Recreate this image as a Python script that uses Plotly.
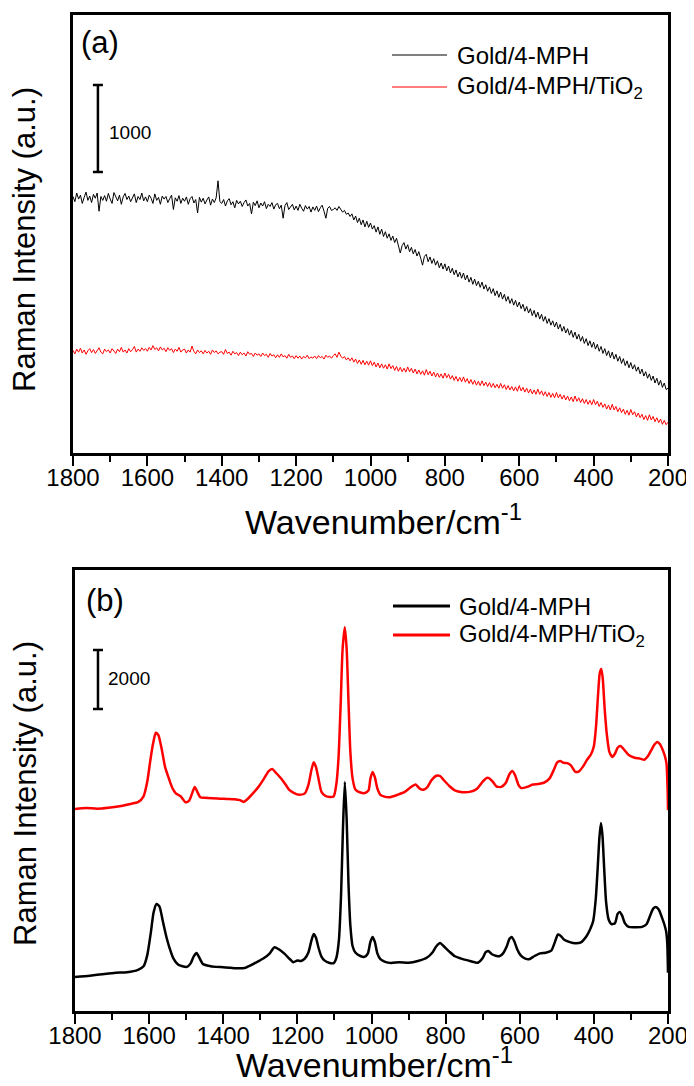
import plotly.graph_objects as go

# ---------------- data ----------------
# panel (a): raw spectra, read every 5 cm-1 from 1800 down to 200
wavenumber_a = list(range(1800, 199, -5))

gold_mph_a = [
    2950, 2890, 2990, 2920, 2965, 2870, 2940, 3000, 2905, 2955,
    2880, 2975, 2930, 2990, 2780, 2950, 2905, 2960, 2895, 2985,
    2920, 2870, 2995, 2940, 2900, 2965, 2860, 2945, 2985, 2915,
    2955, 2890, 2930, 2980, 2880, 2950, 2915, 2990, 2900, 2945,
    2890, 2965, 2930, 2870, 2980, 2905, 2940, 2860, 2955, 2920,
    2950, 2880, 2925, 2965, 2800, 2935, 2895, 2960, 2870, 2930,
    2895, 2945, 2860, 2925, 2950, 2875, 2915, 2760, 2940, 2885,
    2930, 2865, 2910, 2945, 2850, 2920, 2880, 2935, 3130, 2890,
    2870, 2915, 2840, 2900, 2925, 2855, 2890, 2820, 2905, 2865,
    2895, 2835, 2880, 2910, 2840, 2870, 2750, 2885, 2845, 2900,
    2820, 2875, 2840, 2890, 2810, 2860, 2835, 2880, 2805, 2855,
    2870, 2810, 2850, 2700, 2845, 2880, 2800, 2835, 2860, 2795,
    2840, 2790, 2860, 2815, 2780, 2845, 2805, 2835, 2770, 2830,
    2790, 2840, 2775, 2820, 2850, 2780, 2700, 2815, 2835, 2790,
    2800, 2820, 2790, 2835, 2805, 2770, 2790, 2745, 2760, 2720,
    2750, 2680, 2725, 2650, 2700, 2625, 2680, 2600, 2665, 2595,
    2645, 2575, 2615, 2540, 2600, 2515, 2575, 2490, 2545, 2470,
    2520, 2445, 2495, 2420, 2470, 2390, 2300, 2385, 2420, 2345,
    2395, 2315, 2365, 2290, 2340, 2265, 2315, 2240, 2160, 2260,
    2285, 2200, 2255, 2180, 2235, 2160, 2210, 2130, 2185, 2115,
    2175, 2095, 2150, 2070, 2125, 2050, 2105, 2025, 2080, 2010,
    2070, 1990, 2045, 1965, 2020, 1940, 2000, 1925, 1975, 1905,
    1965, 1885, 1935, 1860, 1910, 1835, 1890, 1810, 1865, 1790,
    1850, 1770, 1825, 1745, 1800, 1720, 1775, 1700, 1755, 1680,
    1735, 1660, 1710, 1630, 1685, 1610, 1660, 1580, 1640, 1560,
    1620, 1540, 1595, 1515, 1570, 1490, 1545, 1470, 1520, 1450,
    1505, 1425, 1480, 1400, 1455, 1380, 1430, 1355, 1410, 1330,
    1390, 1310, 1365, 1285, 1340, 1260, 1315, 1235, 1290, 1215,
    1275, 1195, 1250, 1170, 1225, 1145, 1200, 1120, 1175, 1095,
    1160, 1080, 1135, 1055, 1110, 1030, 1085, 1005, 1060, 980,
    1040, 965, 1015, 940, 990, 910, 965, 885, 935, 860,
    910, 835, 885, 805, 860, 780, 835, 755, 805, 730,
    745,
]

gold_mph_tio2_a = [
    1180, 1140, 1195, 1160, 1205, 1150, 1185, 1135, 1175, 1200,
    1155, 1190, 1145, 1180, 1210, 1160, 1140, 1195, 1165, 1185,
    1150, 1200, 1170, 1145, 1195, 1165, 1215, 1160, 1185, 1150,
    1200, 1165, 1190, 1225, 1160, 1195, 1170, 1210, 1180, 1200,
    1170, 1215, 1185, 1235, 1190, 1210, 1175, 1220, 1185, 1205,
    1165, 1210, 1180, 1200, 1155, 1195, 1170, 1215, 1160, 1185,
    1195, 1150, 1185, 1160, 1230, 1170, 1140, 1185, 1155, 1175,
    1140, 1180, 1150, 1170, 1135, 1185, 1155, 1175, 1140, 1160,
    1165, 1135, 1190, 1145, 1160, 1125, 1170, 1140, 1155, 1120,
    1160, 1130, 1150, 1115, 1165, 1135, 1145, 1110, 1150, 1125,
    1140, 1110, 1150, 1120, 1135, 1100, 1145, 1115, 1130, 1095,
    1130, 1100, 1140, 1105, 1120, 1090, 1135, 1100, 1115, 1085,
    1120, 1090, 1115, 1080, 1110, 1095, 1125, 1085, 1105, 1090,
    1115, 1085, 1120, 1095, 1110, 1080, 1125, 1100, 1115, 1090,
    1120, 1140, 1100, 1160, 1115, 1090, 1110, 1070, 1095, 1060,
    1095, 1045, 1080, 1030, 1070, 1020, 1065, 1015, 1055, 1010,
    1060, 1005, 1045, 990, 1035, 980, 1025, 975, 1015, 965,
    1025, 970, 1005, 950, 995, 940, 985, 935, 975, 930,
    990, 935, 975, 920, 965, 910, 955, 905, 945, 895,
    960, 900, 940, 885, 930, 875, 920, 870, 910, 860,
    920, 865, 905, 850, 890, 835, 880, 825, 870, 820,
    875, 815, 855, 800, 845, 790, 835, 780, 825, 775,
    830, 775, 815, 765, 810, 755, 800, 750, 790, 745,
    800, 745, 785, 730, 775, 725, 765, 715, 760, 710,
    775, 715, 755, 700, 745, 690, 735, 680, 725, 675,
    735, 675, 715, 660, 705, 650, 695, 640, 685, 635,
    695, 635, 675, 620, 665, 610, 655, 600, 645, 590,
    655, 595, 635, 580, 625, 570, 615, 560, 605, 555,
    615, 555, 595, 535, 580, 525, 565, 505, 550, 495,
    560, 495, 535, 475, 520, 465, 505, 445, 490, 435,
    500, 440, 475, 415, 460, 405, 445, 385, 430, 375,
    440, 380, 420, 360, 405, 350, 390, 330, 375, 325,
    355,
]

# panel (b): processed spectra
wavenumber_b_black = [
    1800, 1760, 1720, 1690, 1660, 1630, 1615, 1605, 1595, 1588,
    1580, 1572, 1563, 1553, 1545, 1535, 1522, 1510, 1498, 1488,
    1480, 1472, 1464, 1455, 1440, 1420, 1400, 1380, 1360, 1343,
    1325, 1307, 1290, 1275, 1262, 1250, 1235, 1220, 1211, 1200,
    1190, 1180, 1170, 1162, 1156, 1150, 1143, 1135, 1127, 1115,
    1102, 1095, 1088, 1082, 1077, 1072, 1067, 1062, 1057, 1051,
    1043, 1030, 1019, 1010, 1003, 997, 991, 984, 976, 965,
    947, 925, 900, 875, 850, 835, 825, 815, 805, 790,
    775, 760, 740, 713, 700, 692, 685, 675, 665, 655,
    645, 635, 628, 622, 615, 607, 598, 585, 575, 560,
    545, 530, 515, 505, 497, 490, 480, 465, 450, 435,
    420, 410, 402, 395, 390, 385, 381, 377, 372, 367,
    360, 352, 343, 336, 330, 324, 316, 306, 290, 270,
    258, 248, 240, 233, 225, 217, 210, 205, 202, 200,
]
gold_mph_b = [
    1156, 1200, 1260, 1300, 1320, 1400, 1520, 1900, 2700, 3350,
    3640, 3550, 3050, 2500, 2150, 1800, 1580, 1520, 1500, 1620,
    1850, 1970, 1800, 1600, 1540, 1500, 1490, 1470, 1450, 1460,
    1560, 1680, 1800, 1950, 2170, 2100, 1950, 1760, 1660, 1720,
    1700, 1780, 2000, 2400, 2620, 2500, 2150, 1850, 1720, 1640,
    1630, 1800, 2400, 4000, 6200, 7790, 6500, 4300, 2900, 2200,
    1980, 1870, 1840, 1950, 2350, 2520, 2350, 1950, 1760, 1680,
    1630, 1660, 1640, 1700, 1820, 2000, 2200, 2310, 2200, 2020,
    1860, 1790, 1720, 1640, 1800, 2000, 2040, 1930, 1880, 1860,
    1960, 2200, 2450, 2520, 2380, 2100, 1900, 1780, 1760, 1870,
    1960, 1980, 2050, 2350, 2600, 2560, 2420, 2340, 2300, 2330,
    2540, 2780, 3050, 3800, 4800, 5900, 6390, 6000, 4800, 3700,
    3100, 2950, 2990, 3300, 3370, 3250, 2980, 2860, 2850, 2860,
    2950, 3250, 3480, 3540, 3450, 3200, 2950, 2700, 2300, 1300,
]

wavenumber_b_red = [
    1800, 1770, 1740, 1710, 1680, 1650, 1630, 1615, 1605, 1597,
    1590, 1582, 1575, 1566, 1557, 1548, 1538, 1528, 1515, 1502,
    1492, 1484, 1477, 1470, 1462, 1450, 1430, 1410, 1390, 1370,
    1355, 1345, 1335, 1320, 1305, 1290, 1278, 1268, 1258, 1245,
    1232, 1222, 1210, 1195, 1180, 1170, 1162, 1156, 1150, 1143,
    1135, 1125, 1112, 1102, 1095, 1089, 1083, 1078, 1072, 1067,
    1062, 1057, 1051, 1043, 1030, 1018, 1008, 1003, 997, 991,
    984, 976, 965, 950, 930, 910, 895, 881, 870, 860,
    850, 838, 825, 815, 805, 790, 775, 755, 735, 715,
    700, 690, 683, 673, 663, 650, 638, 628, 620, 612,
    604, 596, 580, 565, 550, 535, 520, 508, 499, 491,
    482, 472, 462, 450, 440, 430, 418, 408, 400, 394,
    389, 384, 380, 376, 371, 365, 358, 350, 343, 336,
    328, 318, 306, 290, 275, 264, 255, 245, 237, 229,
    222, 215, 208, 204, 201, 200,
]
gold_mph_tio2_b = [
    6870, 6900, 6880, 6910, 6960, 7040, 7100, 7300, 7800, 8500,
    9050, 9460, 9380, 8900, 8300, 7950, 7600, 7400, 7300, 7100,
    7150, 7400, 7620, 7450, 7270, 7250, 7230, 7220, 7210, 7200,
    7170, 7110, 7200, 7400, 7620, 7900, 8150, 8230, 8100, 7920,
    7700, 7520, 7420, 7350, 7400, 7700, 8200, 8460, 8300, 7900,
    7450, 7320, 7280, 7300, 7700, 8600, 10500, 12300, 13050, 12300,
    10500, 8800, 7900, 7520, 7430, 7410, 7500, 7900, 8130, 7950,
    7560, 7350, 7290, 7270, 7350, 7450, 7600, 7700, 7560, 7520,
    7600, 7850, 8000, 7990, 7850, 7650, 7500, 7440, 7450, 7560,
    7800, 7920, 7920, 7800, 7640, 7620, 7750, 8050, 8160, 8000,
    7700, 7580, 7620, 7700, 7720, 7760, 7900, 8200, 8450, 8500,
    8440, 8430, 8350, 8130, 8150, 8300, 8550, 8720, 9000, 9700,
    10700, 11500, 11630, 11300, 10300, 9400, 8800, 8640, 8750, 8950,
    9010, 8880, 8700, 8610, 8580, 8540, 8650, 8870, 9050, 9150,
    9080, 8900, 8650, 8400, 7500, 6830,
]

legend_names = ["Gold/4-MPH", "Gold/4-MPH/TiO<sub>2</sub>"]
x_ticks = [1800, 1600, 1400, 1200, 1000, 800, 600, 400, 200]
x_title = "Wavenumber/cm<sup>-1</sup>"
y_title = "Raman Intensity (a.u.)"
scale_a = 1000   # intensity scale bar, panel (a)
scale_b = 2000   # intensity scale bar, panel (b)

FONT = "Liberation Sans, Arial, sans-serif"
# the html page puts the plot 8px in from the top-left corner (body margin),
# so the figure is sized to end at the window edge and layout positions
# below are given in window pixels and shifted by that offset
PAGE_OFFSET = 8
W, H = 694 - PAGE_OFFSET, 1086 - PAGE_OFFSET


def px(x):
    return (x - PAGE_OFFSET) / W


def py(y):
    return 1 - (y - PAGE_OFFSET) / H


def style_axes(fig, xname, yname, xdom, ydom, yrange):
    """Boxed axes with outside ticks on the wavenumber axis only."""
    fig.update_layout({
        xname: dict(
            domain=xdom, range=[1800, 200], tickvals=x_ticks,
            showline=True, linecolor="black", linewidth=2.5, mirror=True,
            ticks="outside", ticklen=10, tickwidth=2, tickcolor="black",
            ticklabelstandoff=-9,
            minor=dict(dtick=100, ticks="outside", ticklen=6, tickwidth=2,
                       tickcolor="black"),
            showgrid=False, zeroline=False, automargin=False,
            tickfont=dict(family=FONT, size=24, color="black"),
        ),
        yname: dict(
            domain=ydom, range=yrange,
            showline=True, linecolor="black", linewidth=2.5, mirror=True,
            ticks="", showticklabels=False, showgrid=False, zeroline=False,
            automargin=False,
        ),
    })


def create_raman_figure(output_path="out.html"):
    fig = go.Figure()

    # panel (a)
    fig.add_trace(go.Scatter(x=wavenumber_a, y=gold_mph_a, mode="lines",
                             line=dict(color="black", width=1),
                             xaxis="x", yaxis="y", showlegend=False))
    fig.add_trace(go.Scatter(x=wavenumber_a, y=gold_mph_tio2_a, mode="lines",
                             line=dict(color="red", width=1),
                             xaxis="x", yaxis="y", showlegend=False))
    fig.add_trace(go.Scatter(x=[1733], y=[3732], mode="markers",
                             marker=dict(size=1, color="black"),
                             error_y=dict(type="data", array=[scale_a / 2],
                                          width=5, thickness=2.5, color="black"),
                             xaxis="x", yaxis="y", showlegend=False))

    # panel (b)
    fig.add_trace(go.Scatter(x=wavenumber_b_black, y=gold_mph_b, mode="lines",
                             line=dict(color="black", width=2.5, shape="spline",
                                       smoothing=0.6),
                             xaxis="x2", yaxis="y2", showlegend=False))
    fig.add_trace(go.Scatter(x=wavenumber_b_red, y=gold_mph_tio2_b, mode="lines",
                             line=dict(color="red", width=2.5, shape="spline",
                                       smoothing=0.6),
                             xaxis="x2", yaxis="y2", showlegend=False))
    fig.add_trace(go.Scatter(x=[1738], y=[11272], mode="markers",
                             marker=dict(size=1, color="black"),
                             error_y=dict(type="data", array=[scale_b / 2],
                                          width=5, thickness=2.5, color="black"),
                             xaxis="x2", yaxis="y2", showlegend=False))

    style_axes(fig, "xaxis", "yaxis", [px(73), px(668)], [py(453), py(15)],
               [0, 5037])
    style_axes(fig, "xaxis2", "yaxis2", [px(75), px(668)], [py(1011), py(570)],
               [0, 14994])
    fig.update_layout(xaxis2_anchor="y2", yaxis2_anchor="x2")

    shapes = []
    annotations = []

    # axis titles, one set per panel
    for x_mid, x_bottom, y_mid in [(383, 543, 240), (374, 1086, 794)]:
        annotations.append(dict(text=x_title, xref="paper", yref="paper",
                                x=px(x_mid), y=py(x_bottom), xanchor="center",
                                yanchor="bottom", showarrow=False,
                                font=dict(family=FONT, size=34, color="black")))
        annotations.append(dict(text=y_title, xref="paper", yref="paper",
                                x=px(25), y=py(y_mid), xanchor="center",
                                yanchor="middle", textangle=-90,
                                showarrow=False,
                                font=dict(family=FONT, size=31, color="black")))

    # hand-made legends
    legend_rows = [
        # (line x0, line x1, row y's, text x, line width)
        (392, 447, [55, 87], 455, 1.2),
        (393, 450, [606, 635], 457, 3),
    ]
    for x0, x1, rows, tx, lw in legend_rows:
        for name, color, ry in zip(legend_names, ["black", "red"], rows):
            shapes.append(dict(type="line", xref="paper", yref="paper",
                               x0=px(x0), x1=px(x1), y0=py(ry), y1=py(ry),
                               line=dict(color=color, width=lw)))
            annotations.append(dict(text=name, xref="paper", yref="paper",
                                    x=px(tx), y=py(ry), xanchor="left",
                                    yanchor="middle", showarrow=False,
                                    font=dict(family=FONT, size=24,
                                              color="black")))

    # panel labels
    for label, lx, ly in [("(a)", 79, 43), ("(b)", 84, 600)]:
        annotations.append(dict(text=label, xref="paper", yref="paper",
                                x=px(lx), y=py(ly), xanchor="left",
                                yanchor="middle", showarrow=False,
                                font=dict(family=FONT, size=31, color="black")))

    # scale bar labels
    for value, lx, ly in [(scale_a, 107, 132), (scale_b, 106, 678)]:
        annotations.append(dict(text=str(value), xref="paper", yref="paper",
                                x=px(lx), y=py(ly), xanchor="left",
                                yanchor="middle", showarrow=False,
                                font=dict(family=FONT, size=19, color="black")))

    fig.update_layout(
        width=W, height=H,
        margin=dict(l=0, r=0, t=0, b=0),
        paper_bgcolor="white", plot_bgcolor="white",
        font=dict(family=FONT, color="black"),
        shapes=shapes, annotations=annotations,
    )

    fig.write_html(output_path)
    return fig


if __name__ == "__main__":
    assert len(wavenumber_a) == len(gold_mph_a) == len(gold_mph_tio2_a)
    assert len(wavenumber_b_black) == len(gold_mph_b)
    assert len(wavenumber_b_red) == len(gold_mph_tio2_b)
    create_raman_figure("out.html")
